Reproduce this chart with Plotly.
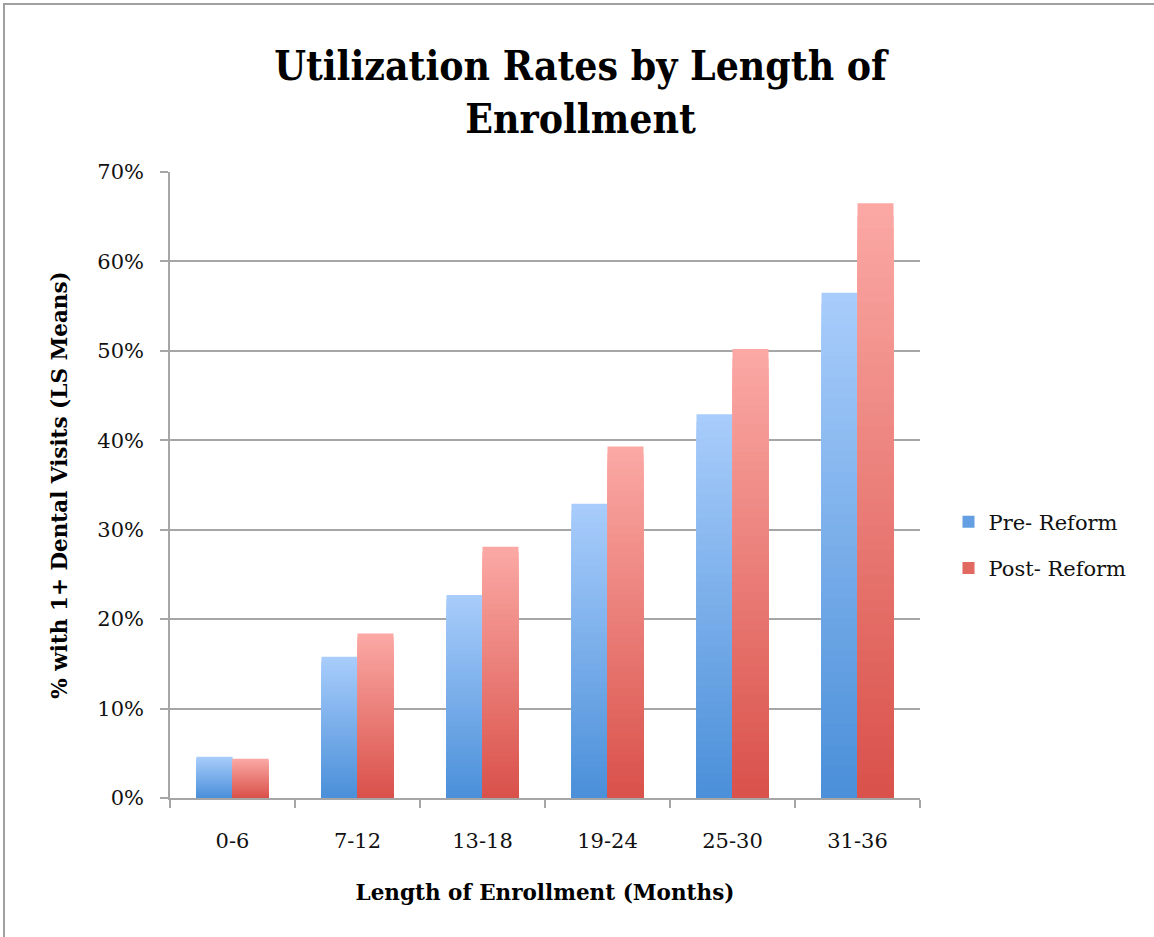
import plotly.graph_objects as go

# Enrollment length buckets (months) and share with 1+ dental visits (LS means)
categories = ["0-6", "7-12", "13-18", "19-24", "25-30", "31-36"]
pre_reform = [0.046, 0.158, 0.227, 0.329, 0.429, 0.565]
post_reform = [0.044, 0.184, 0.281, 0.393, 0.502, 0.665]

series = [
    ("Pre- Reform", pre_reform, (0x4A, 0x8F, 0xD9), (0xA9, 0xCD, 0xFB)),
    ("Post- Reform", post_reform, (0xD9, 0x51, 0x4A), (0xFB, 0xA9, 0xA5)),
]

N_STEPS = 48  # nested layers used to shade each bar from dark (bottom) to light (top)

SERIF = "DejaVu Serif"
TITLE_FONT = "DejaVu Serif Condensed, Liberation Serif, serif"
GRID = "#a6a6a6"


def mix(c0, c1, t):
    return "rgb({},{},{})".format(*(round(a + (b - a) * t) for a, b in zip(c0, c1)))


fig = go.Figure()
for name, values, dark, light in series:
    # Full-height layer first (lightest), then progressively shorter and darker
    # layers on top, so every bar reaches its value with a smooth vertical shade.
    for k in range(N_STEPS - 1, -1, -1):
        frac = (k + 1) / N_STEPS
        t = (k + 0.5) / N_STEPS
        fig.add_trace(go.Bar(
            x=categories,
            y=[v * frac for v in values],
            name=name,
            offsetgroup=name,
            legendgroup=name,
            showlegend=(k == N_STEPS // 4),
            marker=dict(color=mix(dark, light, t), line=dict(width=0)),
            customdata=values,
            hovertemplate="%{x}: %{customdata:.1%}<extra>" + name + "</extra>",
        ))

fig.update_layout(
    width=1154,
    height=937,
    margin=dict(l=170, r=234, t=172, b=139),
    paper_bgcolor="white",
    plot_bgcolor="white",
    barmode="group",
    bargap=0.424,
    bargroupgap=0,
    title=dict(
        text="<b>Utilization Rates by Length of<br>Enrollment</b>",
        x=0.503,
        xanchor="center",
        y=1 - 80 / 937,
        yanchor="top",
        font=dict(family=TITLE_FONT, size=40.5, color="black"),
    ),
    font=dict(family=SERIF, size=22, color="#111111"),
    legend=dict(
        x=1.038,
        xanchor="left",
        y=0.404,
        yanchor="middle",
        font=dict(family=SERIF, size=21, color="#111111"),
        tracegroupgap=16,
        traceorder="grouped",
        bgcolor="rgba(0,0,0,0)",
    ),
    shapes=[
        dict(
            type="rect", xref="paper", yref="paper",
            x0=-166 / 750, x1=1.35, y0=-0.3, y1=794 / 626,
            line=dict(color="#a0a0a0", width=2),
            layer="below",
        )
    ],
)

fig.update_xaxes(
    type="category",
    showline=True,
    linecolor=GRID,
    linewidth=1.5,
    ticks="outside",
    tickson="boundaries",
    ticklen=8,
    tickcolor=GRID,
    tickwidth=1.5,
    ticklabelstandoff=23,
    tickfont=dict(family=SERIF, size=21, color="#111111"),
    showgrid=False,
    title=dict(
        text="<b>Length of Enrollment (Months)</b>",
        font=dict(family=SERIF, size=21.5, color="black"),
        standoff=33,
    ),
)

fig.update_yaxes(
    range=[0, 0.7],
    dtick=0.1,
    tickformat=".0%",
    showline=True,
    linecolor=GRID,
    linewidth=1.5,
    ticks="outside",
    ticklen=8,
    tickcolor=GRID,
    tickwidth=1.5,
    ticklabelstandoff=12,
    tickfont=dict(family=SERIF, size=21, color="#111111"),
    showgrid=True,
    gridcolor=GRID,
    gridwidth=1.5,
    zeroline=False,
    title=dict(
        text="<b>% with 1+ Dental Visits (LS Means)</b>",
        font=dict(family=SERIF, size=21.5, color="black"),
        standoff=24,
    ),
)

fig.write_html("out.html")
